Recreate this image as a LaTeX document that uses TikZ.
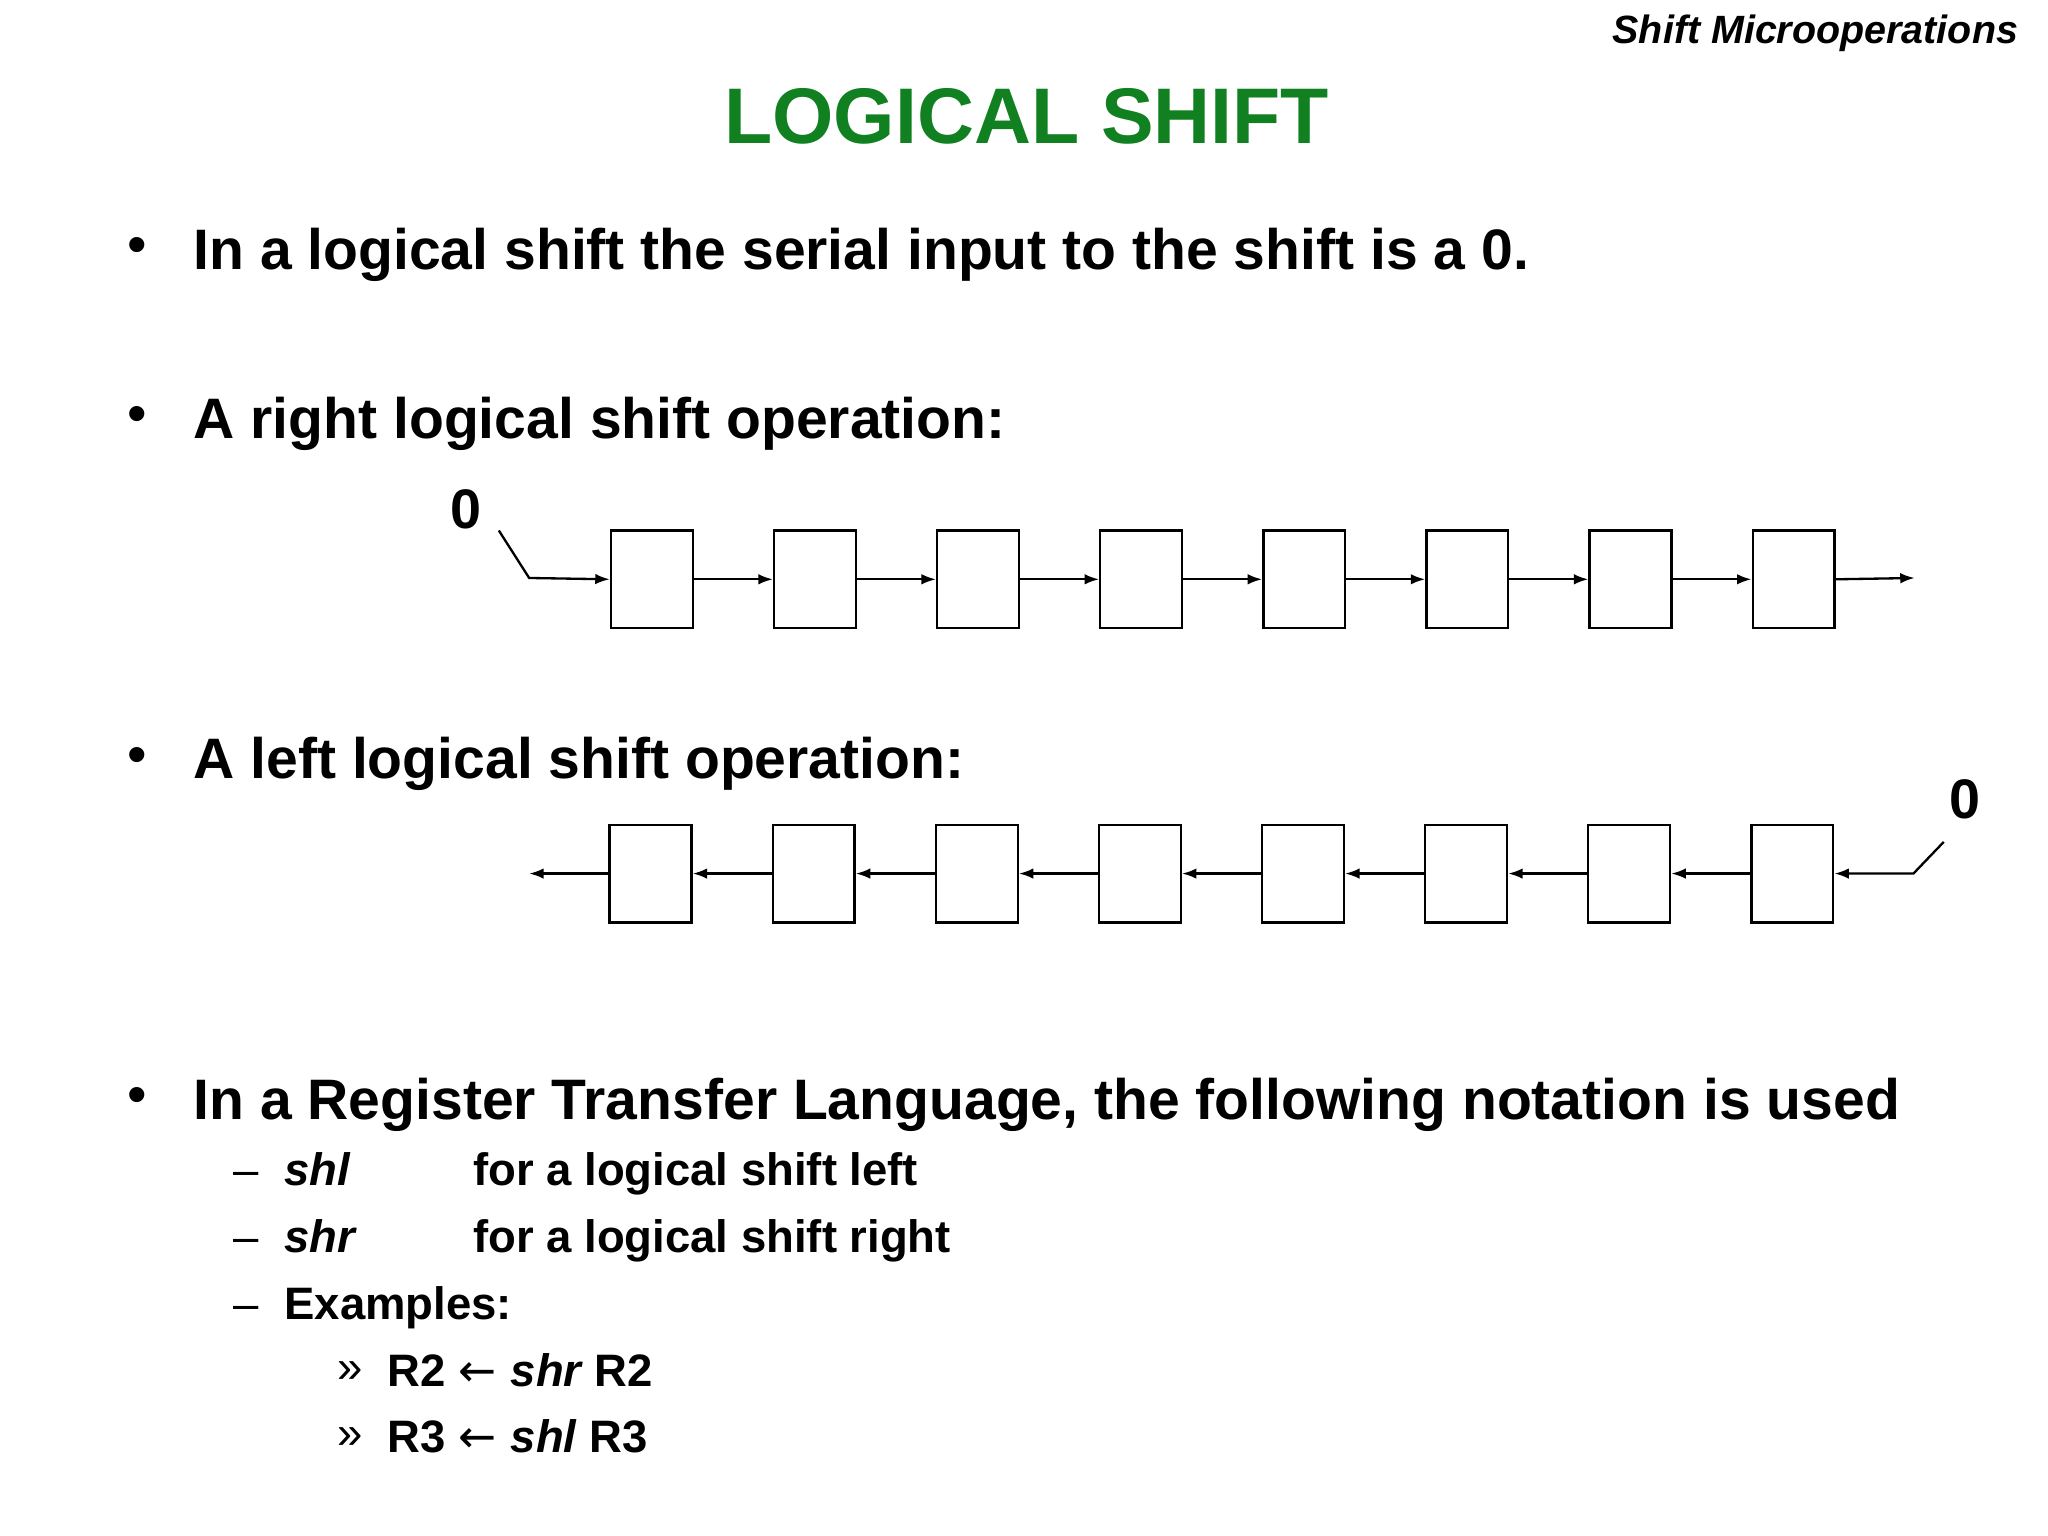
\documentclass[tikz,border=0pt]{standalone}
\usepackage{fontspec}
\setmainfont{Liberation Sans}
\usetikzlibrary{arrows.meta}
\begin{document}
\begin{tikzpicture}[x=0.01cm,y=-0.01cm,
  reg/.style={draw,minimum width=0.62cm,minimum height=0.74cm,inner sep=0pt,line width=0.5pt},
  sarrow/.style={-{Latex[length=1.1mm,width=0.8mm]},line width=0.5pt},
  body/.style={anchor=base west,font=\fontsize{12.3}{14}\selectfont\bfseries,inner sep=0pt},
  sub/.style={anchor=base west,font=\fontsize{9.8}{12}\selectfont\bfseries,inner sep=0pt}]
\useasboundingbox (0,0) rectangle (1552,1164);
\node[anchor=base east,inner sep=0pt,font=\fontsize{8.5}{10}\selectfont\bfseries\itshape] (hdr) at (1530,33) {Shift Microoperations};
\node[anchor=base,inner sep=0pt,font=\fontsize{17}{20}\selectfont\bfseries,text={rgb,255:red,16;green,128;blue,32}] (title) at (778,109) {LOGICAL SHIFT};
\foreach \y/\t [count=\i] in {204/{In a logical shift the serial input to the shift is a 0.},332/{A right logical shift operation:},590/{A left logical shift operation:},848/{In a Register Transfer Language, the following notation is used}}{
  \node[body] (b\i) at (146,\y) {\t};
  \node[anchor=base,inner sep=0pt,font=\fontsize{12}{14}\selectfont] (bd\i) at (104,\y-4) {•};
}
\foreach \i in {1,...,8}{
  \node[reg] (r\i) at ({494+123.6*(\i-1)},439) {};
  \node[reg] (l\i) at ({493+123.6*(\i-1)},662) {};
}
\node[font=\fontsize{12}{14}\selectfont\bfseries,inner sep=0pt] (z1) at (353,386) {0};
\coordinate (ra) at (378,402);
\coordinate (rb) at (401,438);
\coordinate (rend) at (1451,438);
\draw[sarrow] (ra) -- (rb) -- (r1.west);
\foreach \i [evaluate=\i as \j using int(\i+1)] in {1,...,7}{
  \draw[sarrow] (r\i.east) -- (r\j.west);
}
\draw[sarrow] (r8.east) -- (rend);
\node[font=\fontsize{12}{14}\selectfont\bfseries,inner sep=0pt] (z2) at (1489,606) {0};
\coordinate (la) at (1473,638);
\coordinate (lb) at (1450,662);
\coordinate (lend) at (401,662);
\draw[sarrow] (la) -- (lb) -- (l8.east);
\foreach \i [evaluate=\i as \j using int(\i+1)] in {1,...,7}{
  \draw[sarrow] (l\j.west) -- (l\i.east);
}
\draw[sarrow] (l1.west) -- (lend);
\node[sub,font=\fontsize{9.8}{12}\selectfont] (d1) at (176,898) {–};
\node[sub] (s1) at (215,898) {\itshape shl};
\node[sub] (t1) at (358,898) {for a logical shift left};
\node[sub,font=\fontsize{9.8}{12}\selectfont] (d2) at (176,949) {–};
\node[sub] (s2) at (215,949) {\itshape shr};
\node[sub] (t2) at (358,949) {for a logical shift right};
\node[sub,font=\fontsize{9.8}{12}\selectfont] (d3) at (176,1000) {–};
\node[sub] (t3) at (215,1000) {Examples:};
\node[sub,font=\fontsize{9.8}{12}\selectfont] (g1) at (255,1048) {»};
\node[sub] (e1) at (293,1051) {R2 \fontspec{DejaVu Sans}\mdseries←\ \bfseries\fontspec{Liberation Sans}\itshape shr\upshape\ R2};
\node[sub,font=\fontsize{9.8}{12}\selectfont] (g2) at (255,1098) {»};
\node[sub] (e2) at (293,1101) {R3 \fontspec{DejaVu Sans}\mdseries←\ \bfseries\fontspec{Liberation Sans}\itshape shl\upshape\ R3};
\end{tikzpicture}
\end{document}
